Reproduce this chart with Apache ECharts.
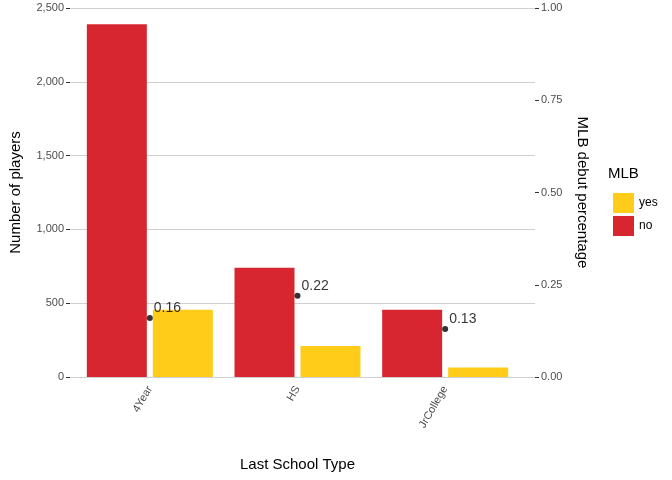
<!DOCTYPE html>
<html lang="en">
<head>
<meta charset="UTF-8">
<title>MLB debut by school type</title>
<script src="https://cdn.jsdelivr.net/npm/echarts@6/dist/echarts.min.js"></script>
</head>
<body style="margin:0">
<div id="main" style="width:672px;height:480px;"></div>
<script>
var schoolTypes = ['4Year', 'HS', 'JrCollege'];
var noCounts = [2390, 740, 455];
var yesCounts = [455, 210, 65];
var debutPct = [0.16, 0.22, 0.13];

var chart = echarts.init(document.getElementById('main'));
var font = 'Liberation Sans';
var grey = '#4d4d4d';

chart.setOption({
    textStyle: { fontFamily: font },
    legend: {
        data: ['yes', 'no'],
        orient: 'vertical',
        left: 608, top: 188,
        itemWidth: 21, itemHeight: 20, itemGap: 3,
        icon: 'rect',
        textStyle: { fontSize: 12, color: '#000', fontFamily: font }
    },
    graphic: [{
        type: 'text', left: 608, top: 166,
        style: { text: 'MLB', fontSize: 15, fill: '#000', fontFamily: font }
    }],
    grid: [
        { left: 62, right: 137, top: 8, bottom: 103 },
        { left: 76, right: 153, top: 8, bottom: 103 }
    ],
    xAxis: [
        { gridIndex: 0, type: 'category', data: schoolTypes, show: false },
        {
            gridIndex: 1, type: 'category', data: schoolTypes,
            name: 'Last School Type', nameLocation: 'middle', nameGap: 80,
            nameTextStyle: { fontSize: 15, color: '#000' },
            axisLine: { show: false }, axisTick: { show: false },
            axisLabel: { rotate: 60, color: grey, fontSize: 11, margin: 10 }
        }
    ],
    yAxis: [
        {
            gridIndex: 0, type: 'value', min: 0, max: 2500, interval: 500,
            name: 'Number of players', nameLocation: 'middle', nameGap: 47,
            nameTextStyle: { fontSize: 15, color: '#000' },
            axisLine: { show: false },
            axisTick: { show: true, length: 4, lineStyle: { color: '#333' } },
            axisLabel: { color: grey, fontSize: 11, margin: 6 },
            splitLine: { lineStyle: { color: '#d0d0d0' } }
        },
        {
            gridIndex: 0, type: 'value', min: 0, max: 1, interval: 0.25, position: 'right',
            name: 'MLB debut percentage', nameLocation: 'middle', nameGap: 40, nameRotate: -90,
            nameTextStyle: { fontSize: 15, color: '#000' },
            axisLine: { show: false },
            axisTick: { show: true, length: 4, lineStyle: { color: '#333' } },
            axisLabel: { color: grey, fontSize: 11, margin: 6, formatter: function (v) { return v.toFixed(2); } },
            splitLine: { show: false }
        },
        { gridIndex: 1, type: 'value', min: 0, max: 2500, show: false },
        { gridIndex: 1, type: 'value', min: 0, max: 1, show: false }
    ],
    series: [
        {
            name: 'no', type: 'bar', xAxisIndex: 1, yAxisIndex: 2,
            data: noCounts, barWidth: 60, barGap: '10%',
            itemStyle: { color: '#D7262F' }
        },
        {
            name: 'yes', type: 'bar', xAxisIndex: 1, yAxisIndex: 2,
            data: yesCounts, barWidth: 60, barGap: '10%',
            itemStyle: { color: '#FFCC1A' }
        },
        {
            name: 'pct', type: 'scatter', xAxisIndex: 1, yAxisIndex: 3,
            data: debutPct, symbolSize: 6, z: 5,
            itemStyle: { color: '#000' },
            label: {
                show: true, position: 'right', offset: [-3, -10], distance: 4,
                color: '#000', fontSize: 14, fontFamily: font,
                formatter: function (p) { return p.value.toFixed(2); }
            }
        }
    ]
});
</script>
</body>
</html>
